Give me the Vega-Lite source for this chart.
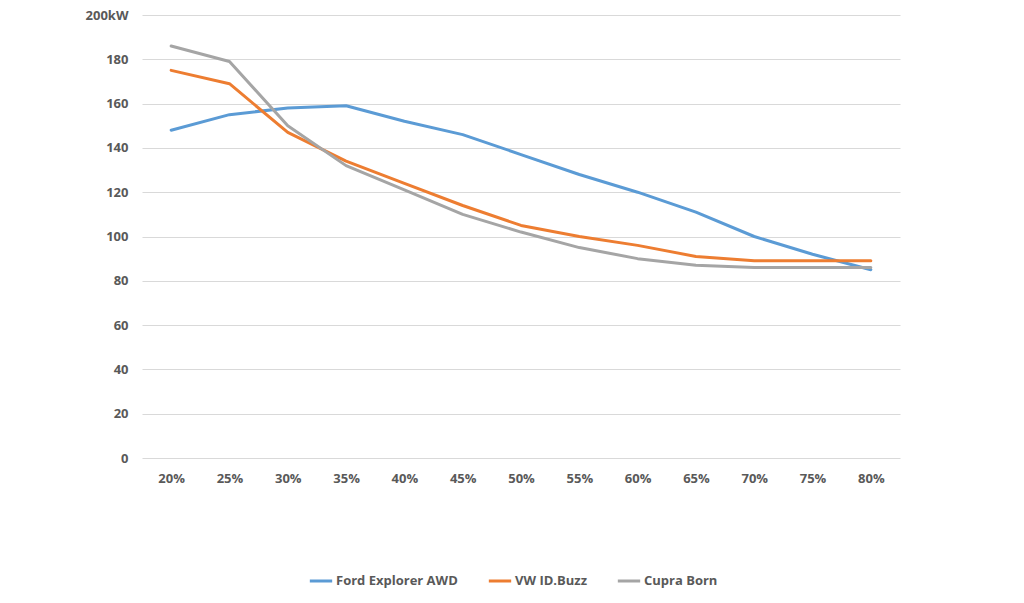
{
  "$schema": "https://vega.github.io/schema/vega-lite/v6.json",
  "autosize": {"type": "none"},
  "padding": {"left": 142, "top": 15, "right": 124, "bottom": 145},
  "width": 758,
  "height": 443,
  "background": "white",
  "config": {
    "view": {"stroke": null},
    "font": "Open Sans"
  },
  "data": {
    "values": [
      {"soc": "20%", "car": "Ford Explorer AWD", "kw": 148},
      {"soc": "25%", "car": "Ford Explorer AWD", "kw": 155},
      {"soc": "30%", "car": "Ford Explorer AWD", "kw": 158},
      {"soc": "35%", "car": "Ford Explorer AWD", "kw": 159},
      {"soc": "40%", "car": "Ford Explorer AWD", "kw": 152},
      {"soc": "45%", "car": "Ford Explorer AWD", "kw": 146},
      {"soc": "50%", "car": "Ford Explorer AWD", "kw": 137},
      {"soc": "55%", "car": "Ford Explorer AWD", "kw": 128},
      {"soc": "60%", "car": "Ford Explorer AWD", "kw": 120},
      {"soc": "65%", "car": "Ford Explorer AWD", "kw": 111},
      {"soc": "70%", "car": "Ford Explorer AWD", "kw": 100},
      {"soc": "75%", "car": "Ford Explorer AWD", "kw": 92},
      {"soc": "80%", "car": "Ford Explorer AWD", "kw": 85},
      {"soc": "20%", "car": "VW ID.Buzz", "kw": 175},
      {"soc": "25%", "car": "VW ID.Buzz", "kw": 169},
      {"soc": "30%", "car": "VW ID.Buzz", "kw": 147},
      {"soc": "35%", "car": "VW ID.Buzz", "kw": 134},
      {"soc": "40%", "car": "VW ID.Buzz", "kw": 124},
      {"soc": "45%", "car": "VW ID.Buzz", "kw": 114},
      {"soc": "50%", "car": "VW ID.Buzz", "kw": 105},
      {"soc": "55%", "car": "VW ID.Buzz", "kw": 100},
      {"soc": "60%", "car": "VW ID.Buzz", "kw": 96},
      {"soc": "65%", "car": "VW ID.Buzz", "kw": 91},
      {"soc": "70%", "car": "VW ID.Buzz", "kw": 89},
      {"soc": "75%", "car": "VW ID.Buzz", "kw": 89},
      {"soc": "80%", "car": "VW ID.Buzz", "kw": 89},
      {"soc": "20%", "car": "Cupra Born", "kw": 186},
      {"soc": "25%", "car": "Cupra Born", "kw": 179},
      {"soc": "30%", "car": "Cupra Born", "kw": 150},
      {"soc": "35%", "car": "Cupra Born", "kw": 132},
      {"soc": "40%", "car": "Cupra Born", "kw": 121},
      {"soc": "45%", "car": "Cupra Born", "kw": 110},
      {"soc": "50%", "car": "Cupra Born", "kw": 102},
      {"soc": "55%", "car": "Cupra Born", "kw": 95},
      {"soc": "60%", "car": "Cupra Born", "kw": 90},
      {"soc": "65%", "car": "Cupra Born", "kw": 87},
      {"soc": "70%", "car": "Cupra Born", "kw": 86},
      {"soc": "75%", "car": "Cupra Born", "kw": 86},
      {"soc": "80%", "car": "Cupra Born", "kw": 86}
    ]
  },
  "mark": {"type": "line", "strokeWidth": 3, "strokeCap": "round", "strokeJoin": "round"},
  "encoding": {
    "x": {
      "field": "soc",
      "type": "ordinal",
      "sort": null,
      "scale": {"type": "point", "padding": 0.5},
      "axis": {
        "title": null,
        "labelAngle": 0,
        "domain": false,
        "ticks": false,
        "grid": false,
        "labelPadding": 14,
        "labelFontSize": 13,
        "labelFontWeight": "bold",
        "labelColor": "#595959"
      }
    },
    "y": {
      "field": "kw",
      "type": "quantitative",
      "scale": {"domain": [0, 200], "nice": false},
      "axis": {
        "title": null,
        "values": [0, 20, 40, 60, 80, 100, 120, 140, 160, 180, 200],
        "labelExpr": "datum.value == 200 ? '200kW' : datum.label",
        "domain": false,
        "ticks": false,
        "gridColor": "#D9D9D9",
        "gridWidth": 1,
        "labelPadding": 14,
        "labelFontSize": 13,
        "labelFontWeight": "bold",
        "labelColor": "#595959"
      }
    },
    "color": {
      "field": "car",
      "type": "nominal",
      "scale": {
        "domain": ["Ford Explorer AWD", "VW ID.Buzz", "Cupra Born"],
        "range": ["#5B9BD5", "#ED7D31", "#A5A5A5"]
      },
      "legend": {
        "title": null,
        "orient": "none",
        "legendX": 166,
        "legendY": 553,
        "direction": "horizontal",
        "symbolType": "stroke",
        "symbolStrokeWidth": 3,
        "symbolSize": 500,
        "columnPadding": 24,
        "labelFontSize": 13,
        "labelFontWeight": "bold",
        "labelColor": "#595959",
        "labelOffset": 2
      }
    }
  }
}
